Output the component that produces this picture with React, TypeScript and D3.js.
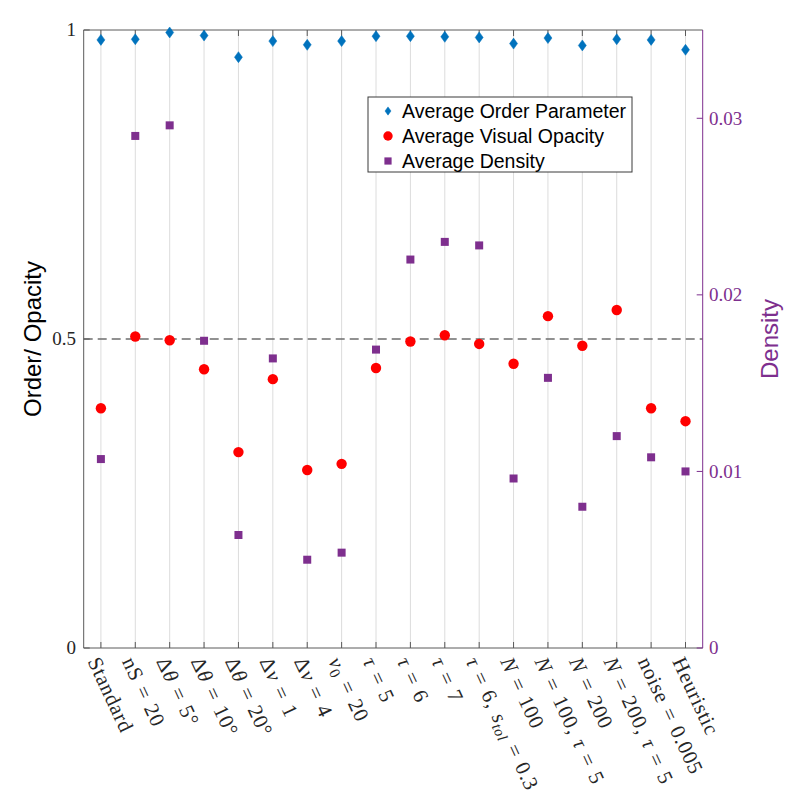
import * as d3 from 'd3';

// condition labels: {x} = italic, [x] = subscript
const categories = [
  'Standard',
  'nS = 20',
  'Δ{θ} = 5°',
  'Δ{θ} = 10°',
  'Δ{θ} = 20°',
  'Δ{v} = 1',
  'Δ{v} = 4',
  '{v}[0] = 20',
  '{τ} = 5',
  '{τ} = 6',
  '{τ} = 7',
  '{τ} = 6, {s}[tol] = 0.3',
  '{N} = 100',
  '{N} = 100, {τ} = 5',
  '{N} = 200',
  '{N} = 200, {τ} = 5',
  'noise = 0.005',
  'Heuristic',
];

const orderParam = [
  0.984, 0.985, 0.996, 0.991, 0.956, 0.982, 0.976, 0.982, 0.99,
  0.99, 0.989, 0.988, 0.978, 0.987, 0.975, 0.985, 0.984, 0.968,
];

const visualOpacity = [
  0.388, 0.504, 0.498, 0.451, 0.317, 0.435, 0.288, 0.298, 0.453,
  0.496, 0.506, 0.492, 0.46, 0.537, 0.489, 0.547, 0.388, 0.367,
];

const density = [
  0.0107, 0.029, 0.0296, 0.0174, 0.0064, 0.0164, 0.005, 0.0054, 0.0169,
  0.022, 0.023, 0.0228, 0.0096, 0.0153, 0.008, 0.012, 0.0108, 0.01,
];

const leftTicks = [0, 0.5, 1];
const rightTicks = [0, 0.01, 0.02, 0.03];

const legendItems = [
  { label: 'Average Order Parameter', kind: 'diamond' },
  { label: 'Average Visual Opacity', kind: 'circle' },
  { label: 'Average Density', kind: 'square' },
];

const BLUE = '#0072BD';
const RED = '#FF0000';
const PURPLE = '#7E2F8E';
const AXIS = '#5a5a5a';
const SERIF = '"Liberation Serif", "DejaVu Serif", serif';
const SANS = '"Liberation Sans", Arial, sans-serif';

const W = 802;
const H = 804;
const L = 83.7;
const R = 702.7;
const T = 30;
const B = 648;

function parseLabel(s: string) {
  const parts: { t: string; it: boolean; sub: boolean }[] = [];
  const re = /\{([^}]*)\}|\[([^\]]*)\]|([^{[]+)/g;
  let m;
  while ((m = re.exec(s))) {
    if (m[1] !== undefined) parts.push({ t: m[1], it: true, sub: false });
    else if (m[2] !== undefined) parts.push({ t: m[2], it: /[a-z]/.test(m[2]), sub: true });
    else parts.push({ t: m[3].replace(/ /g, '\u2004'), it: false, sub: false });
  }
  return parts;
}

function Marker({ kind, x, y, s = 1 }: { kind: string; x: number; y: number; s?: number }) {
  if (kind === 'diamond') {
    const w = 4 * s;
    const h = 5.5 * s;
    return (
      <path
        d={`M${x},${y - h}L${x + w},${y}L${x},${y + h}L${x - w},${y}Z`}
        fill={BLUE}
        stroke={BLUE}
        strokeWidth={0.5}
      />
    );
  }
  if (kind === 'circle') return <circle cx={x} cy={y} r={5.2 * s} fill={RED} />;
  const a = 4 * s;
  return <rect x={x - a} y={y - a} width={2 * a} height={2 * a} fill={PURPLE} />;
}

export default function App() {
  const x = d3.scaleLinear().domain([0.5, 18.5]).range([L, R]);
  const yL = d3.scaleLinear().domain([0, 1]).range([B, T]);
  const yR = d3.scaleLinear().domain([0, 0.035]).range([B, T]);
  const idx = d3.range(categories.length);

  return (
    <div style={{ position: 'absolute', left: 0, top: 0 }}>
      <svg width={W} height={H} style={{ display: 'block', background: '#fff' }}>
        {/* grid */}
        {idx.map((i) => (
          <line key={i} x1={x(i + 1)} x2={x(i + 1)} y1={T} y2={B} stroke="#dcdcdc" strokeWidth={1} />
        ))}

        {/* reference line */}
        <line x1={L} x2={R} y1={yL(0.5)} y2={yL(0.5)} stroke="#6e6e6e" strokeWidth={1.3} strokeDasharray="9,5" />

        {/* box + ticks */}
        <line x1={L} x2={R} y1={T} y2={T} stroke={AXIS} strokeWidth={1} />
        <line x1={L} x2={R} y1={B} y2={B} stroke={AXIS} strokeWidth={1} />
        <line x1={L} x2={L} y1={T} y2={B} stroke={AXIS} strokeWidth={1} />
        <line x1={R} x2={R} y1={T} y2={B} stroke={PURPLE} strokeWidth={1} />
        {idx.map((i) => (
          <g key={i}>
            <line x1={x(i + 1)} x2={x(i + 1)} y1={B} y2={B - 6} stroke={AXIS} />
            <line x1={x(i + 1)} x2={x(i + 1)} y1={T} y2={T + 6} stroke={AXIS} />
          </g>
        ))}
        {leftTicks.map((t) => (
          <g key={t}>
            <line x1={L} x2={L + 6} y1={yL(t)} y2={yL(t)} stroke={AXIS} />
            <text x={76} y={yL(t)} dy="0.33em" textAnchor="end" fontFamily={SERIF} fontSize={19} fill="#262626">
              {t}
            </text>
          </g>
        ))}
        {rightTicks.map((t) => (
          <g key={t}>
            <line x1={R} x2={R - 6} y1={yR(t)} y2={yR(t)} stroke={PURPLE} />
            <text x={709} y={yR(t)} dy="0.33em" fontFamily={SERIF} fontSize={19} fill={PURPLE}>
              {t}
            </text>
          </g>
        ))}

        {/* x tick labels */}
        {categories.map((c, i) => {
          const parts = parseLabel(c);
          return (
            <text
              key={c}
              transform={`translate(${x(i + 1)},655) rotate(65)`}
              y={15}
              fontFamily={SERIF}
              fontSize={21}
              letterSpacing={0.7}
              fill="#262626"
            >
              {parts.map((p, k) => (
                <tspan
                  key={k}
                  fontStyle={p.it ? 'italic' : 'normal'}
                  fontSize={p.sub ? 15 : 21}
                  dy={p.sub ? 4 : k > 0 && parts[k - 1].sub ? -4 : 0}
                >
                  {p.t}
                </tspan>
              ))}
            </text>
          );
        })}

        {/* axis titles */}
        <text
          transform={`translate(41,${yL(0.5)}) rotate(-90)`}
          textAnchor="middle"
          fontFamily={SANS}
          fontSize={24}
          fill="#000"
        >
          Order/ Opacity
        </text>
        <text
          transform={`translate(778,${yL(0.5)}) rotate(-90)`}
          textAnchor="middle"
          fontFamily={SANS}
          fontSize={24}
          fill={PURPLE}
        >
          Density
        </text>

        {/* markers */}
        {density.map((v, i) => (
          <Marker key={`d${i}`} kind="square" x={x(i + 1)} y={yR(v)} />
        ))}
        {visualOpacity.map((v, i) => (
          <Marker key={`o${i}`} kind="circle" x={x(i + 1)} y={yL(v)} />
        ))}
        {orderParam.map((v, i) => (
          <Marker key={`p${i}`} kind="diamond" x={x(i + 1)} y={yL(v)} />
        ))}

        {/* legend */}
        <g>
          <rect x={368} y={97} width={264} height={75} fill="#fff" stroke="#3a3a3a" strokeWidth={1} />
          {legendItems.map((it, k) => (
            <g key={it.label}>
              <Marker kind={it.kind} x={388} y={111 + k * 25} s={it.kind === 'diamond' ? 0.75 : 0.9} />
              <text x={402} y={111 + k * 25} dy="0.36em" fontFamily={SANS} fontSize={19.5} fill="#000">
                {it.label}
              </text>
            </g>
          ))}
        </g>
      </svg>
    </div>
  );
}
